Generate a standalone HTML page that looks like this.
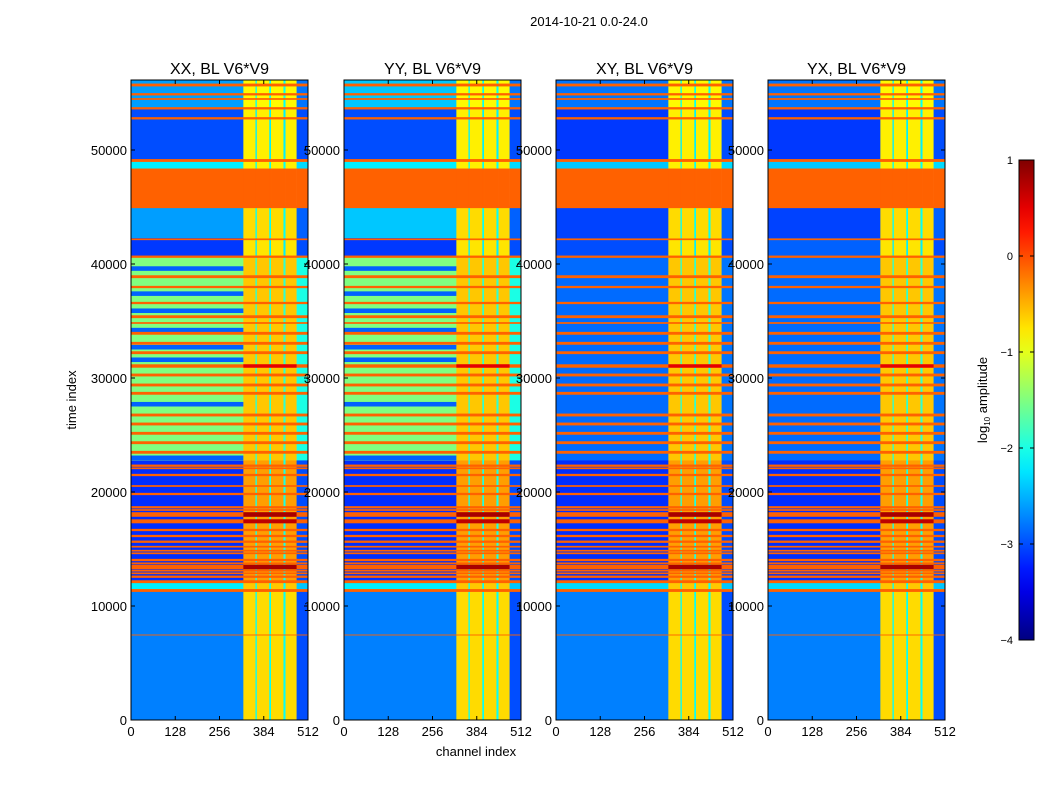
<!DOCTYPE html>
<html><head><meta charset="utf-8">
<style>
body{margin:0;background:#fff;font-family:"Liberation Sans",sans-serif;}
svg text{font-family:"Liberation Sans",sans-serif;fill:#000;}
</style></head>
<body>
<svg id="fig" width="1050" height="800" viewBox="0 0 1050 800" xmlns="http://www.w3.org/2000/svg">
<text x="589" y="26" font-size="13" text-anchor="middle">2014-10-21 0.0-24.0</text>
<g id="panels"></g>
<text x="0" y="0" font-size="13" text-anchor="middle" transform="translate(76,400) rotate(-90)">time index</text>
<text x="476" y="756" font-size="13" text-anchor="middle">channel index</text>
<g id="cbar"></g>
<text x="0" y="0" font-size="13" text-anchor="middle" transform="translate(987,400) rotate(-90)">log<tspan font-size="8" dy="3">10</tspan><tspan dy="-3"> amplitude</tspan></text>
</svg>
<script>
// ---- data ----
const polarizations = ["XX","YY","XY","YX"];
const chEdges = [0,325,360,364,400,405,441,447,479,512];
const chTypes = ["bg","s","g","s","g","s","g","s","edge"];
// time bands (time index)
const bandStart = [0,11300,12100,22800,40700,42300,45100,48400,49100,53700];
const bandEnd   = [11300,12100,22800,40700,42300,45100,48400,49100,53700,56140];
const bgXX = [-2.75,-2.2,-3.15,-1.5,-3.1,-2.6,-0.1,-2.2,-3.0,-2.6];
const bgYY = [-2.75,-2.2,-3.15,-1.5,-3.1,-2.4,-0.1,-2.2,-3.0,-2.4];
const bgXY = [-2.75,-2.3,-3.15,-2.85,-3.0,-3.05,-0.1,-2.4,-3.1,-2.8];
const bgYX = [-2.75,-2.3,-3.15,-2.85,-2.9,-3.05,-0.1,-2.4,-3.1,-2.8];
const stripeVal = [-0.7,-0.6,-0.4,-0.6,-0.75,-0.7,-0.1,-0.8,-0.8,-0.85];
const gapVal    = [-2.1,-2.1,-2.0,-1.9,-2.2,-2.1,-0.1,-2.1,-2.2,-2.1];
const edgeVal   = [-3.0,-2.4,-3.0,-2.0,-3.0,-2.9,-0.1,-2.3,-3.0,-2.8];
// blue stripes inside green band (XX, YY only)
const blueStripeT = [39600,37400,35900,34200,32700,31600,27700,23000];
// orange flagged rows
const lineT = [55702,54886,54474,53658,52781,49079,45000,42167,40640,38886,37982,36579,35377,34825,33921,33044,32219,31053,30263,29386,28658,26754,25965,25149,24325,23482,22307,22079,21491,20526,19825,18658,18421,18026,17430,16667,16140,15640,15202,14851,14623,14035,13746,13421,13096,12868,12570,12132,11360,7456];
const lineW = [250,200,150,200,200,250,200,150,200,250,200,200,250,150,250,250,250,300,250,250,250,250,250,250,250,250,200,150,200,150,200,200,150,400,350,200,200,200,150,150,150,200,150,400,150,150,200,250,250,80];
const lineV = [-0.1,-0.1,-0.1,-0.1,-0.1,-0.1,-0.1,-0.1,-0.1,-0.1,-0.1,-0.1,-0.1,-0.1,-0.1,-0.1,-0.1,0.1,-0.1,-0.1,-0.1,-0.1,-0.1,-0.1,-0.1,-0.1,-0.1,-0.1,-0.1,-0.1,-0.1,-0.1,-0.1,0.4,0.3,-0.1,-0.1,-0.1,-0.1,-0.1,-0.1,-0.1,-0.1,0.4,-0.1,-0.1,-0.1,-0.1,-0.1,-0.1];
const xTicks = [0,128,256,384,512];
const yTicks = [0,10000,20000,30000,40000,50000];
const cbTicks = [1,0,-1,-2,-3,-4];
// ---- layout ----
const panelLeft = [131,344,556,768];
const panelW = 177, plotTop = 80, plotBottom = 720, tMax = 56140;
const vmin=-4, vmax=1;
function jet(v){
  let x=(v-vmin)/(vmax-vmin); x=Math.max(0,Math.min(1,x));
  const c=a=>Math.round(255*Math.max(0,Math.min(1,1.5-Math.abs(4*x-a))));
  return `rgb(${c(3)},${c(2)},${c(1)})`;
}
const NS="http://www.w3.org/2000/svg";
function mk(tag,attrs,parent){const e=document.createElementNS(NS,tag);for(const k in attrs)e.setAttribute(k,attrs[k]);parent.appendChild(e);return e;}
const yScale=t=>plotBottom-(t/tMax)*(plotBottom-plotTop);
const panels=document.getElementById('panels');
const bgs=[bgXX,bgYY,bgXY,bgYX];
polarizations.forEach((pol,pi)=>{
  const L=panelLeft[pi];
  const xScale=c=>L+c/512*panelW;
  const g=mk('g',{},panels);
  
  
  const clip=mk('clipPath',{id:'clip'+pi},g);
  mk('rect',{x:L,y:plotTop,width:panelW,height:plotBottom-plotTop},clip);
  const cells=mk('g',{'clip-path':`url(#clip${pi})`},g);
  const bg=bgs[pi];
  for(let b=0;b<bandStart.length;b++){
    const y0=yScale(bandEnd[b]), y1=yScale(bandStart[b]);
    for(let s=0;s<chTypes.length;s++){
      const ty=chTypes[s];
      let val= ty==='bg'?bg[b]:ty==='s'?stripeVal[b]:ty==='g'?gapVal[b]:edgeVal[b];
      if(b===3 && pi>=2 && ty==='edge') val=-2.8;
      const r=mk('rect',{x:xScale(chEdges[s]),y:y0,width:xScale(chEdges[s+1])-xScale(chEdges[s])+0.3,height:y1-y0+0.3,fill:jet(val)},cells);
      
      
    }
  }
  if(pi<2){
    blueStripeT.forEach((t,i)=>{
      const y0=yScale(t+200), y1=yScale(t-200);
      const r=mk('rect',{x:xScale(0),y:y0,width:xScale(325)-xScale(0),height:y1-y0,fill:jet(-2.9)},cells);
      
      
    });
  }
  lineT.forEach((t,i)=>{
    const y0=yScale(t+lineW[i]/2), y1=yScale(t-lineW[i]/2);
    const r=mk('rect',{x:L,y:y0,width:panelW,height:Math.max(0.8,y1-y0),fill:jet(-0.1)},cells);
    
    
    if(lineV[i]>0){
      const r2=mk('rect',{x:xScale(325),y:y0,width:xScale(479)-xScale(325),height:Math.max(0.8,y1-y0),fill:jet(lineV[i]+0.4)},cells);
      
      
    }
  });
  const fr=mk('rect',{x:L,y:plotTop,width:panelW,height:plotBottom-plotTop,fill:'none',stroke:'#000','stroke-width':1},g);
  
  
  const tt=mk('text',{x:L+panelW/2,y:74,'font-size':16,'text-anchor':'middle'},g);
  tt.textContent=pol+', BL V6*V9';
  
  
  xTicks.forEach(v=>{
    const x=xScale(v);
    mk('line',{x1:x,x2:x,y1:plotBottom,y2:plotBottom-4,stroke:'#000'},g);
    mk('line',{x1:x,x2:x,y1:plotTop,y2:plotTop+4,stroke:'#000'},g);
    const t=mk('text',{x:x,y:plotBottom+16,'font-size':13,'text-anchor':'middle'},g);
    t.textContent=v;
    
    
  });
  yTicks.forEach(v=>{
    const y=yScale(v);
    mk('line',{x1:L,x2:L+4,y1:y,y2:y,stroke:'#000'},g);
    mk('line',{x1:L+panelW,x2:L+panelW-4,y1:y,y2:y,stroke:'#000'},g);
    const t=mk('text',{x:L-4,y:y+5,'font-size':13,'text-anchor':'end'},g);
    t.textContent=v;
    
    
  });
});
// colorbar
const cb=document.getElementById('cbar');
const cbTop=160,cbBot=640,cbX=1019,cbW=15;
const defs=mk('defs',{},cb);
const grad=mk('linearGradient',{id:'jetg',x1:0,y1:1,x2:0,y2:0},defs);
for(let i=0;i<=20;i++){mk('stop',{offset:i/20,'stop-color':jet(vmin+(vmax-vmin)*i/20)},grad);}
const cbr=mk('rect',{x:cbX,y:cbTop,width:cbW,height:cbBot-cbTop,fill:'url(#jetg)',stroke:'#000'},cb);


cbTicks.forEach(v=>{
  const y=cbBot-(v-vmin)/(vmax-vmin)*(cbBot-cbTop);
  mk('line',{x1:cbX,x2:cbX+4,y1:y,y2:y,stroke:'#000'},cb);
  mk('line',{x1:cbX+cbW,x2:cbX+cbW-4,y1:y,y2:y,stroke:'#000'},cb);
  const t=mk('text',{x:1013,y:y+4,'font-size':11,'text-anchor':'end'},cb);
  t.textContent=v<0?'\u2212'+(-v):String(v);
  
  
});
</script>
</body></html>
